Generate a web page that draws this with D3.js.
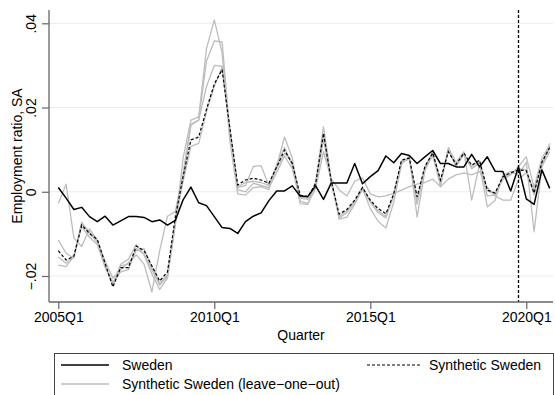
<!DOCTYPE html>
<html>
<head>
<meta charset="utf-8">
<script src="https://cdn.jsdelivr.net/npm/d3@7"></script>
<style>
  html, body { margin: 0; padding: 0; background: #fff; }
  svg { display: block; font-family: "Liberation Sans", Arial, Helvetica, sans-serif; }
</style>
</head>
<body>
<svg id="chart" width="555" height="395"></svg>
<script>
// Quarterly employment ratio gaps (seasonally adjusted), 2005Q1–2020Q4, index 0 = 2005Q1
const sweden = [
  0.0010,-0.0015,-0.0042,-0.0037,-0.0059,-0.0071,-0.0058,-0.0079,-0.0069,-0.0059,
 -0.0059,-0.0061,-0.0071,-0.0067,-0.0079,-0.0068,-0.0019,0.0011,-0.0026,-0.0033,
 -0.0059,-0.0085,-0.0087,-0.0099,-0.0071,-0.0058,-0.0050,-0.0021,0.0002,0.0002,
  0.0014,-0.0010,-0.0011,0.0014,-0.0018,0.0021,0.0021,0.0021,0.0067,0.0019,
  0.0036,0.0050,0.0085,0.0069,0.0091,0.0086,0.0067,0.0083,0.0098,0.0067,
  0.0067,0.0059,0.0059,0.0089,0.0059,0.0083,0.0049,0.0048,0.0002,0.0059,
 -0.0017,-0.0030,0.0052,0.0008
];

const synthetic = [
 -0.0140,-0.0162,-0.0153,-0.0079,-0.0099,-0.0113,-0.0170,-0.0226,-0.0180,-0.0180,
 -0.0129,-0.0140,-0.0176,-0.0212,-0.0190,-0.0060,0.0036,0.0123,0.0130,0.0196,
  0.0256,0.0290,0.0150,0.0016,0.0028,0.0032,0.0028,0.0020,0.0059,0.0099,
  0.0067,-0.0008,-0.0012,0.0020,0.0139,0.0025,-0.0053,-0.0042,-0.0020,0.0010,
 -0.0020,-0.0040,-0.0052,-0.0005,0.0075,0.0080,-0.0012,0.0060,0.0092,0.0028,
  0.0095,0.0065,0.0092,0.0063,0.0075,0.0004,-0.0003,0.0036,0.0045,0.0052,
  0.0050,-0.0003,0.0070,0.0105
];

// Leave-one-out synthetic controls
const looA = [
 -0.0028,0.0018,-0.0110,-0.0130,-0.0088,-0.0115,-0.0165,-0.0205,-0.0185,-0.0168,
 -0.0150,-0.0172,-0.0238,-0.0140,-0.0058,-0.0047,0.0045,0.0160,0.0170,0.0250,
  0.0300,0.0298,0.0150,0.0005,0.0000,0.0020,0.0015,0.0010,0.0045,0.0085,
  0.0055,-0.0022,-0.0028,0.0008,0.0095,0.0030,0.0005,-0.0010,0.0025,0.0033,
 -0.0005,-0.0012,-0.0010,-0.0004,0.0004,0.0012,0.0018,0.0022,0.0030,0.0012,
  0.0030,0.0040,0.0045,0.0040,0.0048,0.0010,-0.0010,-0.0020,-0.0020,0.0030,
  0.0045,0.0005,0.0060,0.0095
];
const looB = [
 -0.0115,-0.0146,-0.0158,-0.0075,-0.0095,-0.0120,-0.0180,-0.0218,-0.0172,-0.0160,
 -0.0125,-0.0150,-0.0195,-0.0232,-0.0205,-0.0080,0.0080,0.0170,0.0178,0.0340,
  0.0408,0.0330,0.0120,-0.0005,-0.0008,0.0010,0.0012,0.0005,0.0060,0.0130,
  0.0080,-0.0028,-0.0030,0.0025,0.0154,0.0030,-0.0065,-0.0060,-0.0030,0.0008,
 -0.0040,-0.0070,-0.0086,-0.0025,0.0065,0.0085,-0.0060,0.0050,0.0090,0.0012,
  0.0105,0.0070,0.0095,-0.0020,0.0065,-0.0036,-0.0020,0.0040,0.0048,0.0040,
  0.0070,-0.0095,0.0060,0.0115
];
const looC = [
 -0.0155,-0.0170,-0.0150,-0.0083,-0.0108,-0.0125,-0.0178,-0.0215,-0.0190,-0.0185,
 -0.0135,-0.0148,-0.0185,-0.0222,-0.0200,-0.0075,0.0030,0.0158,0.0170,0.0310,
  0.0358,0.0356,0.0140,0.0010,0.0015,0.0060,0.0062,0.0015,0.0065,0.0105,
  0.0062,-0.0015,-0.0018,0.0015,0.0125,0.0020,-0.0062,-0.0050,-0.0025,0.0005,
 -0.0025,-0.0050,-0.0062,-0.0010,0.0070,0.0078,-0.0030,0.0055,0.0085,0.0020,
  0.0100,0.0060,0.0088,0.0055,0.0068,-0.0010,-0.0008,0.0030,0.0040,0.0060,
  0.0083,0.0010,0.0080,0.0110
];
const looD = [
 -0.0174,-0.0178,-0.0153,-0.0072,-0.0100,-0.0118,-0.0175,-0.0222,-0.0176,-0.0172,
 -0.0140,-0.0135,-0.0180,-0.0218,-0.0196,-0.0068,0.0025,0.0108,0.0115,0.0190,
  0.0250,0.0295,0.0145,0.0012,0.0022,0.0025,0.0022,0.0015,0.0055,0.0092,
  0.0070,-0.0012,-0.0015,0.0018,0.0132,0.0025,-0.0058,-0.0045,-0.0022,0.0012,
 -0.0022,-0.0045,-0.0058,-0.0008,0.0072,0.0082,-0.0020,0.0058,0.0095,0.0025,
  0.0098,0.0062,0.0090,0.0060,0.0072,0.0002,-0.0005,0.0035,0.0042,0.0055,
  0.0052,-0.0008,0.0072,0.0102
];
const leaveOneOut = [looA, looB, looC, looD];

const xTickIndex = [0, 20, 40, 60];
const xTickLabels = ["2005Q1", "2010Q1", "2015Q1", "2020Q1"];
const yTickValues = [-0.02, 0, 0.02, 0.04];
const yTickLabels = ["\u2212.02", "0", ".02", ".04"];
const treatmentIndex = 59; // 2019Q4

const svg = d3.select("#chart");
const axisLeftX = 49, axisBottomY = 302, plotTop = 10, plotRight = 553;

const x = d3.scaleLinear().domain([0, 63]).range([58.3, 549.7]);
const y = d3.scaleLinear().domain([-0.02, 0.04]).range([276, 23.3]);

// Horizontal gridlines
svg.append("g").selectAll("line").data(yTickValues).join("line")
  .attr("x1", axisLeftX).attr("x2", plotRight)
  .attr("y1", d => y(d)).attr("y2", d => y(d))
  .attr("stroke", "#e6eef0").attr("stroke-width", 1);

const line = d3.line().x((d, i) => x(i)).y(d => y(d));

// Leave-one-out lines
svg.append("g").selectAll("path").data(leaveOneOut).join("path")
  .attr("d", line).attr("fill", "none")
  .attr("stroke", "#bdbdbd").attr("stroke-width", 1.3).attr("stroke-linejoin", "round");

// Synthetic Sweden
svg.append("path").datum(synthetic).attr("d", line).attr("fill", "none")
  .attr("stroke", "#000").attr("stroke-width", 1.2).attr("stroke-dasharray", "3,2");

// Sweden
svg.append("path").datum(sweden).attr("d", line).attr("fill", "none")
  .attr("stroke", "#000").attr("stroke-width", 1.5).attr("stroke-linejoin", "round");

// Treatment line
svg.append("line")
  .attr("x1", x(treatmentIndex)).attr("x2", x(treatmentIndex))
  .attr("y1", plotTop).attr("y2", axisBottomY)
  .attr("stroke", "#000").attr("stroke-width", 1.3).attr("stroke-dasharray", "3,2");

// Y axis
const yAxis = d3.axisLeft(y).tickValues(yTickValues)
  .tickFormat((d, i) => yTickLabels[i]).tickSize(7).tickSizeOuter(0);
const gy = svg.append("g").attr("transform", `translate(${axisLeftX},0)`).call(yAxis);
gy.select(".domain").attr("d", `M0,${plotTop}V${axisBottomY}`);
gy.selectAll(".tick text")
  .attr("x", 0).attr("y", 0).attr("dy", 0)
  .attr("text-anchor", "middle")
  .attr("transform", "translate(-13,0) rotate(-90)");

// X axis
const xAxis = d3.axisBottom(x).tickValues(xTickIndex)
  .tickFormat((d, i) => xTickLabels[i]).tickSize(7).tickSizeOuter(0);
const gx = svg.append("g").attr("transform", `translate(0,${axisBottomY})`).call(xAxis);
gx.select(".domain").attr("d", `M${axisLeftX},0H${plotRight}`);
gx.selectAll(".tick text").attr("y", 10).attr("dy", "0.71em");

[gx, gy].forEach(g => {
  g.select(".domain").attr("stroke", "#666").attr("stroke-width", 1.3);
  g.selectAll(".tick line").attr("stroke", "#666").attr("stroke-width", 1.2);
  g.selectAll(".tick text").attr("fill", "#000")
    .style("font-family", "'Liberation Sans', Arial, sans-serif").style("font-size", "14px");
});

// Axis titles
svg.append("text").attr("x", (axisLeftX + plotRight) / 2).attr("y", 340)
  .attr("text-anchor", "middle").style("font-size", "14px").text("Quarter");
svg.append("text").attr("transform", `translate(22,${(plotTop + axisBottomY) / 2}) rotate(-90)`)
  .attr("text-anchor", "middle").style("font-size", "14px").text("Employment ratio, SA");

// Legend
const lg = svg.append("g");
lg.append("rect").attr("x", 54.5).attr("y", 353.5).attr("width", 499).attr("height", 60)
  .attr("fill", "#fff").attr("stroke", "#444").attr("stroke-width", 1);
const legendItems = [
  { label: "Sweden", x1: 61, x2: 109, tx: 122, y: 365, stroke: "#000", w: 1.5, dash: null },
  { label: "Synthetic Sweden", x1: 367, x2: 420, tx: 429, y: 365, stroke: "#000", w: 1.2, dash: "3,2" },
  { label: "Synthetic Sweden (leave\u2212one\u2212out)", x1: 61, x2: 109, tx: 122, y: 384, stroke: "#bdbdbd", w: 1.3, dash: null }
];
legendItems.forEach(it => {
  lg.append("line").attr("x1", it.x1).attr("x2", it.x2).attr("y1", it.y).attr("y2", it.y)
    .attr("stroke", it.stroke).attr("stroke-width", it.w).attr("stroke-dasharray", it.dash);
  lg.append("text").attr("x", it.tx).attr("y", it.y).attr("dy", "0.35em")
    .style("font-size", "14px").text(it.label);
});
</script>
</body>
</html>
